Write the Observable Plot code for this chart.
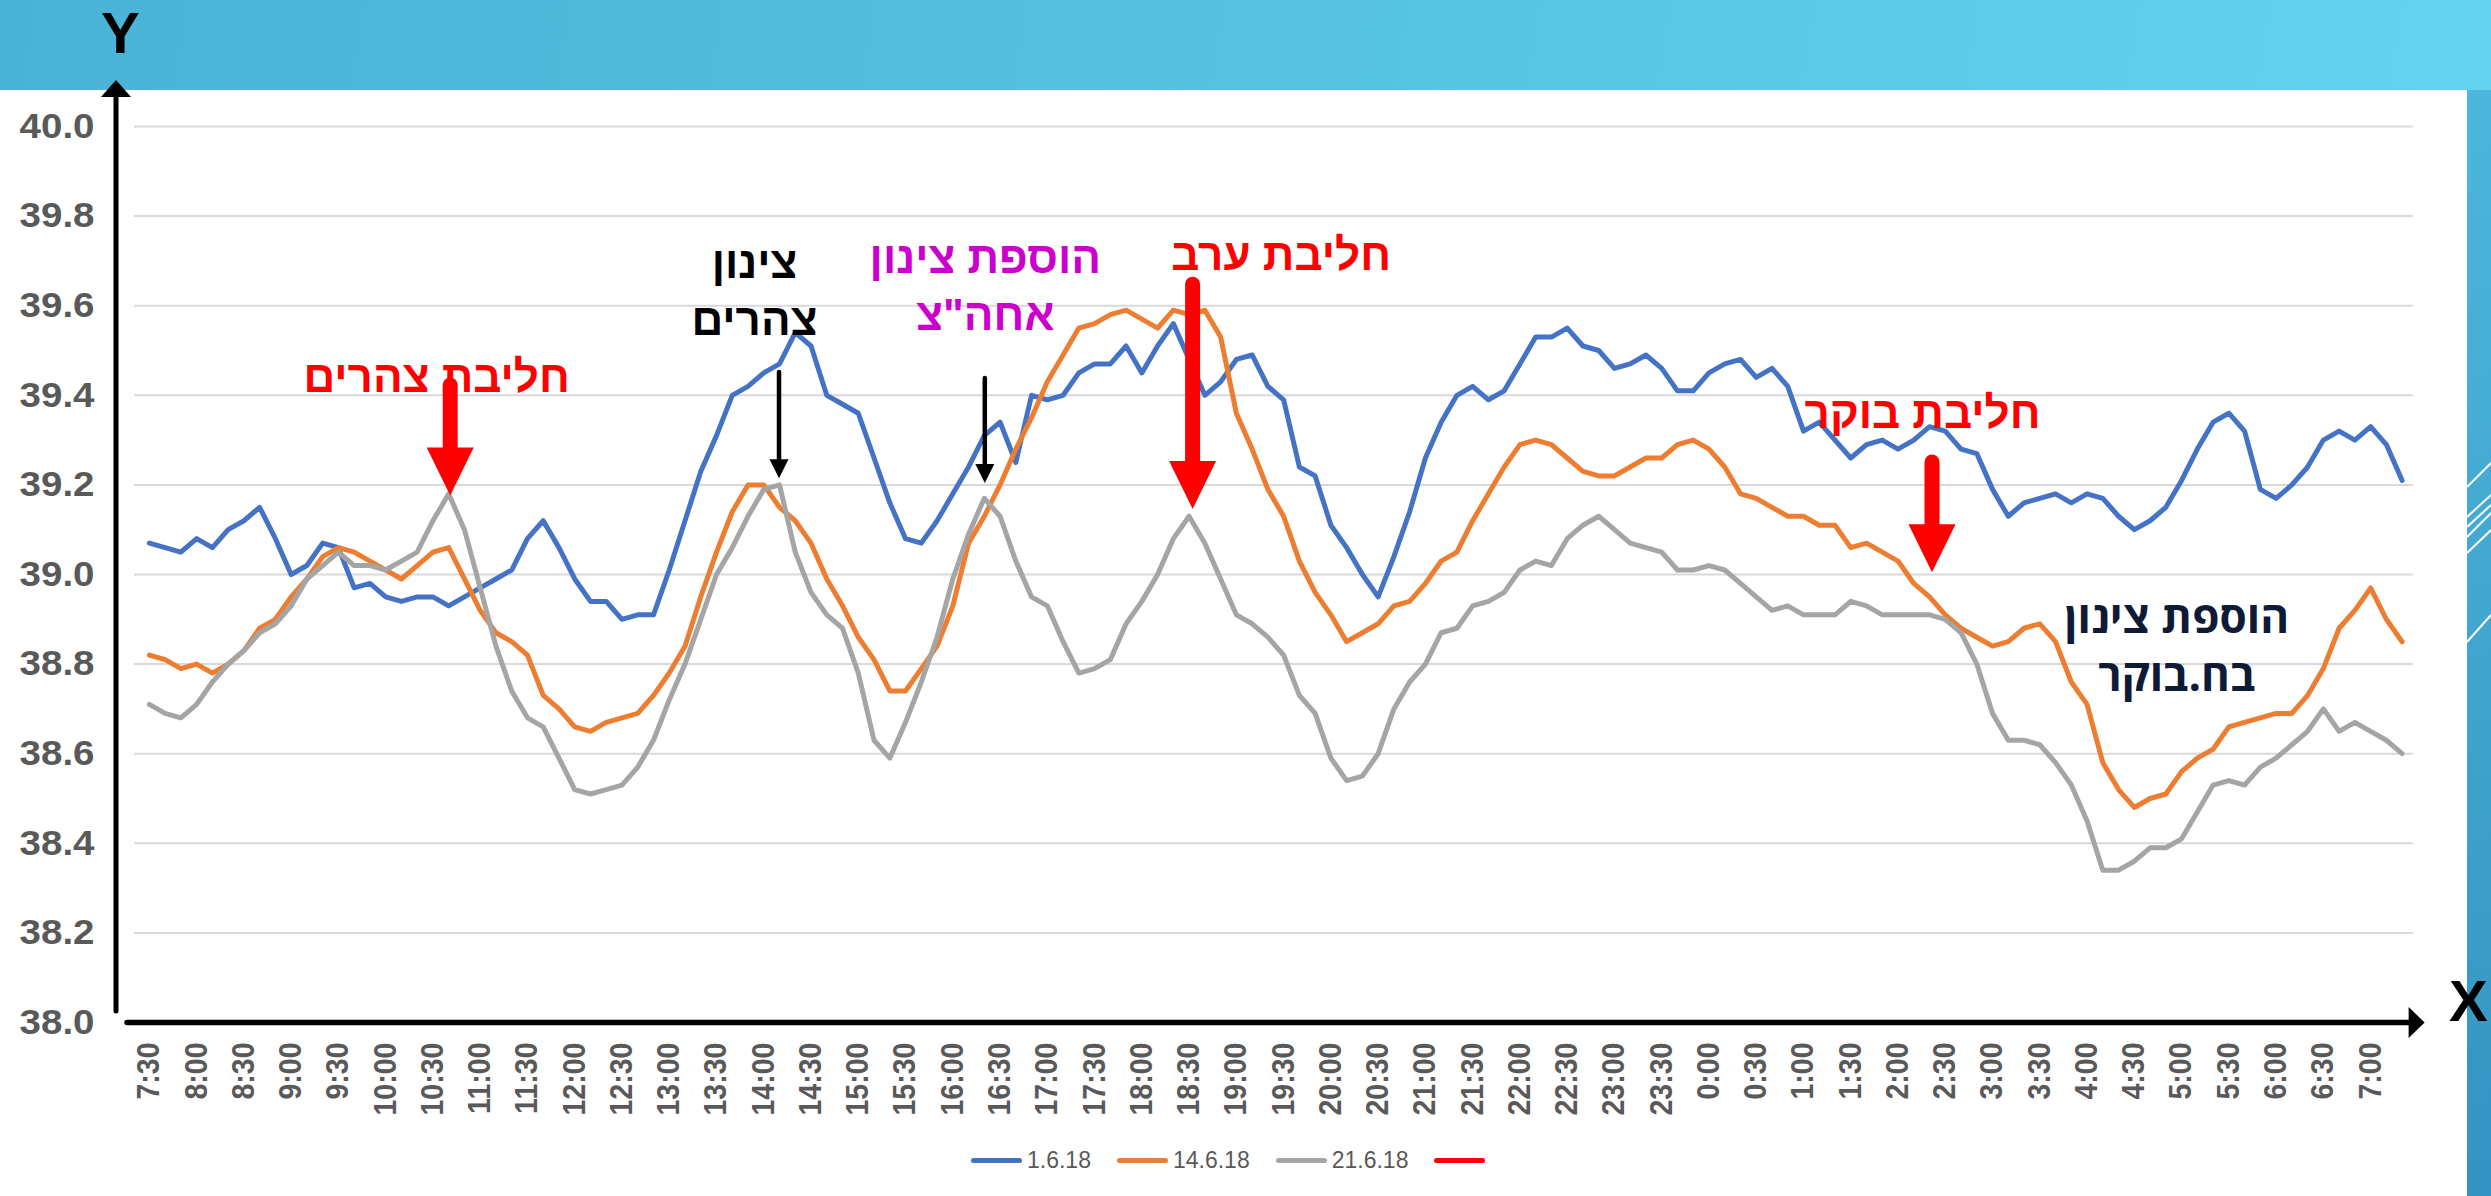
<!DOCTYPE html>
<html><head><meta charset="utf-8">
<script src="https://cdn.jsdelivr.net/npm/d3@7"></script>
<script src="https://cdn.jsdelivr.net/npm/@observablehq/plot@0.6"></script>
<style>
html,body{margin:0;padding:0;background:#fff;}
#page{position:relative;width:2491px;height:1196px;overflow:hidden;background:#fff;font-family:"Liberation Sans",Arial,sans-serif;}
#band{position:absolute;left:0;top:0;width:2491px;height:90px;background:linear-gradient(100deg,#4ab2d6 0%,#57c3e2 55%,#63d3ef 100%);}
#strip{position:absolute;left:2467px;top:90px;width:24px;height:1106px;background:linear-gradient(180deg,#4db6dc 0%,#42a8d1 45%,#3593c1 100%);}
#chart{position:absolute;left:0;top:0;}
#deco{position:absolute;left:0;top:0;}
#legend{position:absolute;top:1147px;left:971px;display:flex;align-items:center;font-size:23px;color:#595959;white-space:nowrap;}
#legend .sw{display:inline-block;width:51px;height:5px;border-radius:3px;margin-right:5px;}
#legend .it{display:flex;align-items:center;margin-right:26px;}
.axl{position:absolute;color:#000;font-family:"Liberation Sans",Arial,sans-serif;font-weight:bold;line-height:0.8;font-size:58px;}
</style></head>
<body>
<div id="page">
  <div id="band"></div>
  <div id="strip"></div>
  <div class="axl" style="left:101px;top:10px;">Y</div>
  <div class="axl" style="left:2449px;top:978px;">X</div>
  <div id="chart"></div>
  <div id="legend"></div>
</div>
<script>
// ---- data ----
const tickLabels = ["7:30","8:00","8:30","9:00","9:30","10:00","10:30","11:00","11:30","12:00","12:30","13:00","13:30","14:00","14:30","15:00","15:30","16:00","16:30","17:00","17:30","18:00","18:30","19:00","19:30","20:00","20:30","21:00","21:30","22:00","22:30","23:00","23:30","0:00","0:30","1:00","1:30","2:00","2:30","3:00","3:30","4:00","4:30","5:00","5:30","6:00","6:30","7:00"];
const seriesNames = ["1.6.18","14.6.18","21.6.18",""];
const seriesColors = ["#4472C4","#ED7D31","#A5A5A5","#FF0000"];
const yTicks = [38.0,38.2,38.4,38.6,38.8,39.0,39.2,39.4,39.6,39.8,40.0];
const threshold = 39.0;

const blue = [39.07,39.06,39.05,39.08,39.06,39.10,39.12,39.15,39.08,39.00,
39.02,39.07,39.06,38.97,38.98,38.95,38.94,38.95,38.95,38.93,
38.95,38.97,38.99,39.01,39.08,39.12,39.06,38.99,38.94,38.94,
38.90,38.91,38.91,39.01,39.12,39.23,39.31,39.40,39.42,39.45,
39.47,39.54,39.51,39.40,39.38,39.36,39.26,39.16,39.08,39.07,
39.12,39.18,39.24,39.31,39.34,39.25,39.40,39.39,39.40,39.45,
39.47,39.47,39.51,39.45,39.51,39.56,39.48,39.40,39.43,39.48,
39.49,39.42,39.39,39.24,39.22,39.11,39.06,39.00,38.95,39.04,
39.14,39.26,39.34,39.40,39.42,39.39,39.41,39.47,39.53,39.53,
39.55,39.51,39.50,39.46,39.47,39.49,39.46,39.41,39.41,39.45,
39.47,39.48,39.44,39.46,39.42,39.32,39.34,39.30,39.26,39.29,
39.30,39.28,39.30,39.33,39.32,39.28,39.27,39.19,39.13,39.16,
39.17,39.18,39.16,39.18,39.17,39.13,39.10,39.12,39.15,39.21,
39.28,39.34,39.36,39.32,39.19,39.17,39.20,39.24,39.30,39.32,
39.30,39.33,39.29,39.21];

const orange = [38.82,38.81,38.79,38.80,38.78,38.80,38.83,38.88,38.90,38.95,
38.99,39.04,39.06,39.05,39.03,39.01,38.99,39.02,39.05,39.06,
38.99,38.92,38.87,38.85,38.82,38.73,38.70,38.66,38.65,38.67,
38.68,38.69,38.73,38.78,38.84,38.95,39.05,39.14,39.20,39.20,
39.15,39.12,39.07,38.99,38.93,38.86,38.81,38.74,38.74,38.79,
38.84,38.93,39.07,39.13,39.20,39.28,39.35,39.43,39.49,39.55,
39.56,39.58,39.59,39.57,39.55,39.59,39.58,39.59,39.53,39.36,
39.28,39.19,39.13,39.03,38.96,38.91,38.85,38.87,38.89,38.93,
38.94,38.98,39.03,39.05,39.12,39.18,39.24,39.29,39.30,39.29,
39.26,39.23,39.22,39.22,39.24,39.26,39.26,39.29,39.30,39.28,
39.24,39.18,39.17,39.15,39.13,39.13,39.11,39.11,39.06,39.07,
39.05,39.03,38.98,38.95,38.91,38.88,38.86,38.84,38.85,38.88,
38.89,38.85,38.76,38.71,38.58,38.52,38.48,38.50,38.51,38.56,
38.59,38.61,38.66,38.67,38.68,38.69,38.69,38.73,38.79,38.88,
38.92,38.97,38.90,38.85];

const gray = [38.71,38.69,38.68,38.71,38.76,38.80,38.83,38.87,38.89,38.93,
38.99,39.02,39.05,39.02,39.02,39.01,39.03,39.05,39.12,39.18,
39.10,38.97,38.84,38.74,38.68,38.66,38.59,38.52,38.51,38.52,
38.53,38.57,38.63,38.72,38.80,38.90,39.00,39.06,39.13,39.19,
39.20,39.05,38.96,38.91,38.88,38.78,38.63,38.59,38.67,38.76,
38.86,38.99,39.09,39.17,39.13,39.03,38.95,38.93,38.85,38.78,
38.79,38.81,38.89,38.94,39.00,39.08,39.13,39.07,38.99,38.91,
38.89,38.86,38.82,38.73,38.69,38.59,38.54,38.55,38.60,38.70,
38.76,38.80,38.87,38.88,38.93,38.94,38.96,39.01,39.03,39.02,
39.08,39.11,39.13,39.10,39.07,39.06,39.05,39.01,39.01,39.02,
39.01,38.98,38.95,38.92,38.93,38.91,38.91,38.91,38.94,38.93,
38.91,38.91,38.91,38.91,38.90,38.87,38.80,38.69,38.63,38.63,
38.62,38.58,38.53,38.45,38.34,38.34,38.36,38.39,38.39,38.41,
38.47,38.53,38.54,38.53,38.57,38.59,38.62,38.65,38.70,38.65,
38.67,38.65,38.63,38.60];

// annotations (anchored to category + value)
const arrows = [
  {at:"10:40", from:39.422, to:39.175, color:"#FF0000", big:true, dx:2},
  {at:"14:10", from:39.451, to:39.214, color:"#000000", big:false, dx:0},
  {at:"16:20", from:39.4375, to:39.203, color:"#000000", big:false, dx:1},
  {at:"18:30", from:39.647, to:39.145, color:"#FF0000", big:true, dx:4},
  {at:"2:20", from:39.25, to:39.004, color:"#FF0000", big:true, dx:3}
];
const notes = [
  {at:"10:40", y:39.408, dx:-12, text:"חליבת צהרים", color:"#FF0000", font:"Liberation Sans"},
  {at:"14:10", y:39.5335, dx:-25, text:"צינון\nצהרים", color:"#000000", font:"Liberation Sans"},
  {at:"16:20", y:39.545, dx:1, text:"הוספת צינון\nאחה\"צ", color:"#CC00CC", font:"Liberation Sans"},
  {at:"18:30", y:39.679, dx:92, text:"חליבת ערב", color:"#FF0000", font:"Liberation Sans"},
  {at:"2:20", y:39.328, dx:-7, text:"חליבת בוקר", color:"#FF0000", font:"Liberation Sans"},
  {at:"4:50", y:38.741, dx:11, text:"הוספת צינון\nבח.בוקר", color:"#0E1A36", font:"Open Sans"}
];

// 10-minute categories
const times = [];
for (let k = 0; k < blue.length; k++) {
  const m = (7*60 + 30 + 10*k) % (24*60);
  times.push(`${Math.floor(m/60)}:${String(m%60).padStart(2,"0")}`);
}
const rows = times.map((t,i)=>({t, i}));
const vals = [blue, orange, gray];

const chart = Plot.plot({
  width: 2491, height: 1196,
  marginTop: 126, marginBottom: 174, marginLeft: 134, marginRight: 78,
  style: {background: "transparent", overflow: "visible", fontFamily: "Liberation Sans, Arial, sans-serif"},
  x: {type: "point", domain: times, insetLeft: 7, insetRight: 3.5, label: null},
  y: {domain: [38, 40], label: null},
  marks: [
    Plot.gridY(yTicks, {stroke: "#d9d9d9", strokeOpacity: 1, strokeWidth: 2}),
    Plot.axisY(yTicks, {tickSize: 0, tickPadding: 40, tickFormat: d => d.toFixed(1), fontSize: 35, fontWeight: "bold", fill: "#595959", label: null}),
    Plot.axisX(tickLabels, {tickSize: 0, tickPadding: 20, tickRotate: -90, fontSize: 31, fontWeight: "bold", fill: "#595959", label: null}),
    ...vals.map((v, s) => Plot.line(rows, {x: "t", y: d => v[d.i], stroke: seriesColors[s], strokeWidth: 5, strokeLinejoin: "round", strokeLinecap: "round"})),
    Plot.ruleY([threshold], {x1: times[0], x2: times[times.length-1], stroke: seriesColors[3], strokeWidth: 6, strokeLinecap: "round"}),
    ...notes.map(n => Plot.text([n], {x: "at", y: "y", dx: n.dx, text: "text", fill: n.color, fontSize: 44, fontWeight: "bold", fontFamily: n.font, textAnchor: "middle", lineAnchor: "bottom", lineHeight: 1.3}))
  ]
});
document.getElementById("chart").appendChild(chart);

const xs = chart.scale("x"), ys = chart.scale("y");
const svg = d3.select(chart);

// widen y tick labels / tighten x tick labels like the source rendering
svg.selectAll('[aria-label="y-axis tick label"] text').each(function() {
  const L = this.getComputedTextLength();
  this.setAttribute("textLength", (L * 1.1).toFixed(1));
  this.setAttribute("lengthAdjust", "spacingAndGlyphs");
});
svg.selectAll('[aria-label="x-axis tick label"] text').each(function() {
  const L = this.getComputedTextLength();
  this.setAttribute("textLength", (L * 0.92).toFixed(1));
  this.setAttribute("lengthAdjust", "spacingAndGlyphs");
});

// axis arrows (decoration of the frame)
const gA = svg.append("g");
const yTop = ys.apply(40), yBot = ys.apply(38);
const axX = 116;
gA.append("line").attr("x1", axX).attr("x2", axX).attr("y1", yBot - 11).attr("y2", yTop - 28).attr("stroke", "#000").attr("stroke-width", 5).attr("stroke-linecap","round");
gA.append("path").attr("d", `M${axX-15},${yTop-29} L${axX+15},${yTop-29} L${axX},${yTop-46} Z`).attr("fill", "#000");
const xEnd = xs.apply(times[times.length-1]);
gA.append("line").attr("x1", 127).attr("x2", xEnd + 9).attr("y1", yBot + 0.5).attr("y2", yBot + 0.5).attr("stroke", "#000").attr("stroke-width", 5.5).attr("stroke-linecap","round");
gA.append("path").attr("d", `M${xEnd+7},${yBot-15} L${xEnd+7},${yBot+16} L${xEnd+23},${yBot+0.5} Z`).attr("fill", "#000");

// annotation arrows
const gN = svg.append("g");
for (const a of arrows) {
  const x = xs.apply(a.at) + a.dx, y1 = ys.apply(a.from), y2 = ys.apply(a.to);
  const hw = a.big ? 47 : 19, hl = a.big ? 48 : 19, sw = a.big ? 15 : 4.5;
  gN.append("line").attr("x1", x).attr("x2", x).attr("y1", y1).attr("y2", y2 - hl + 2).attr("stroke", a.color).attr("stroke-width", sw).attr("stroke-linecap", "round");
  gN.append("path").attr("d", `M${x-hw/2},${y2-hl} L${x+hw/2},${y2-hl} L${x},${y2} Z`).attr("fill", a.color);
}

// legend
const lg = document.getElementById("legend");
seriesNames.forEach((n, s) => {
  const it = document.createElement("div"); it.className = "it";
  const sw = document.createElement("span"); sw.className = "sw"; sw.style.background = seriesColors[s];
  it.appendChild(sw);
  if (n) { const l = document.createElement("span"); l.textContent = n; it.appendChild(l); }
  lg.appendChild(it);
});

// decorative white diagonals on the right strip
const deco = d3.select("#page").append("svg").attr("id","deco").attr("width",2491).attr("height",1196).style("pointer-events","none");
[[487,463],[517,495],[527,505],[537,513],[553,530],[642,615]].forEach(([a,b]) => {
  deco.append("line").attr("x1",2467).attr("y1",a).attr("x2",2491).attr("y2",b).attr("stroke","#fff").attr("stroke-width",2);
});
</script>
</body></html>
